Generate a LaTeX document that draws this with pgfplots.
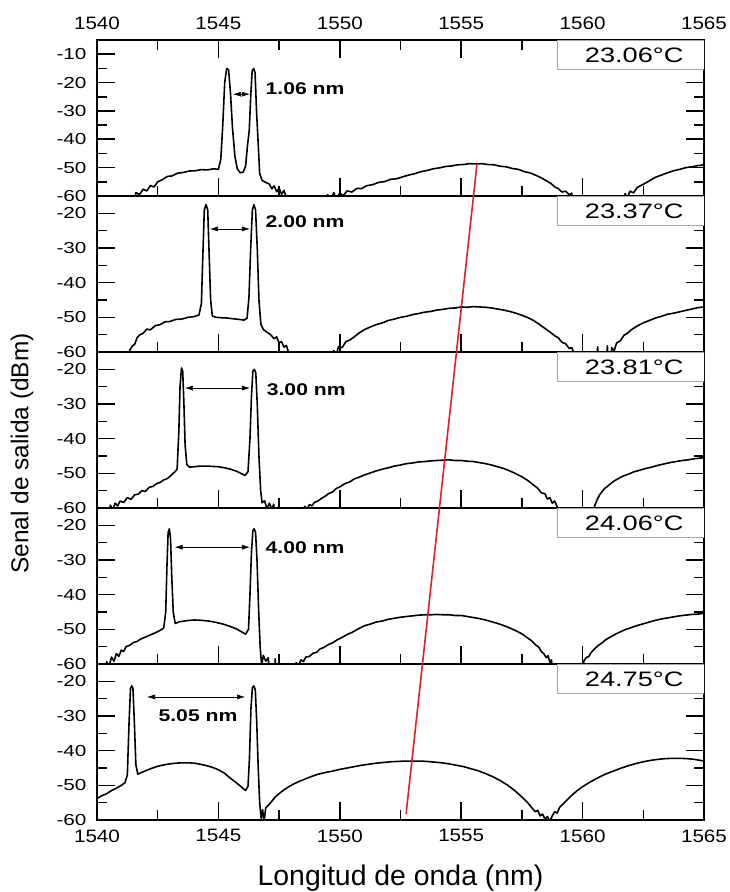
\documentclass[border=0pt]{standalone}
\usepackage{fontspec}
\setmainfont{Liberation Sans}[FakeStretch=1.15]
\newfontfamily\tempfont{Liberation Sans}[FakeStretch=1.3]
\newfontfamily\annfont{Liberation Sans}[FakeStretch=1.25]
\newfontfamily\labfont{Liberation Sans}
\usepackage{pgfplots}
\pgfplotsset{compat=1.18}
\usetikzlibrary{arrows.meta}

\definecolor{trace}{RGB}{226,32,36}

\pgfplotsset{
  panel/.style={
    scale only axis, width=607bp, height=156bp,
    xmin=1540, xmax=1565, ymin=-60, ymax=-15,
    xtick={1540,1545,1550,1555,1560,1565},
    minor xtick={1542.5,1547.5,1552.5,1557.5,1562.5},
    minor ytick={-55,-45,-35,-25,-15,-5},
    ytick={-60,-50,-40,-30,-20},
    yticklabels={-60,-50,-40,-30,-20},
    tick align=inside,
    major tick length=18bp, minor tick length=10bp,
    tick style={black, line width=1.6pt},
    axis line style={line width=1.3pt},
    ytick pos=both, yticklabel pos=left,
    xtick pos=left, xticklabels={},
    yticklabel style={font=\tempfont\fontsize{16}{16}\selectfont, xshift=-7bp},
    xticklabel style={font=\fontsize{18}{18}\selectfont},
    anchor=north west,
  },
  spec/.style={black, line width=1.6pt, line join=round},
}
\tikzset{
  gap/.style={{Latex[length=8bp,width=5bp]}-{Latex[length=8bp,width=5bp]}, line width=0.6pt},
  gaptext/.style={font=\annfont\bfseries\fontsize{17}{17}\selectfont},
  tbox/.style={draw=gray!70, fill=white, line width=0.8pt},
  ttext/.style={anchor=base east, font=\tempfont\fontsize{21}{21}\selectfont},
}

\begin{document}
\begin{tikzpicture}
\useasboundingbox (-97bp,-852bp) rectangle (633bp,40bp);

% ---- 23.06 C ----
\begin{axis}[panel, at={(0,0)}, ymax=-5,
  ytick={-60,-50,-40,-30,-20,-10},
  yticklabels={-60,-50,-40,-30,-20,-10},
  xtick pos=both, xticklabel pos=right,
  xticklabels={1540,1545,1550,1555,1560,1565},
  xticklabel style={yshift=7bp}]
\addplot[spec] coordinates {
(1541.45,-66)(1541.6,-58.8)(1541.75,-59.5)(1541.9,-57.6)(1542.05,-58.2)(1542.2,-56.3)
(1542.35,-56.8)(1542.5,-55.0)(1542.7,-54.2)(1542.9,-53.1)(1543.1,-52.9)(1543.3,-52.0)
(1543.55,-51.7)(1543.8,-51.2)(1544.05,-51.1)(1544.3,-50.7)(1544.55,-50.8)(1544.8,-50.4)
(1545.0,-50.6)(1545.1,-47)(1545.18,-35)(1545.26,-20)(1545.34,-15)(1545.42,-15.5)
(1545.5,-24)(1545.58,-36)(1545.68,-46)(1545.78,-50.5)(1545.9,-51.8)(1546.02,-51.6)
(1546.12,-49.5)(1546.2,-42)(1546.27,-37)(1546.33,-25)(1546.39,-16)(1546.45,-15)
(1546.51,-16.5)(1546.57,-30)(1546.63,-40)(1546.7,-52)(1546.8,-54.5)(1546.95,-55.2)
(1547.1,-55.8)(1547.2,-57.5)(1547.3,-56.4)(1547.4,-58.5)(1547.5,-57.2)(1547.6,-59.4)
(1547.7,-58.0)(1547.8,-60.5)(1547.9,-66)
(1549.3,-66)(1549.5,-59.5)(1549.6,-62)(1549.75,-58.8)(1549.85,-61)(1550.0,-59.0)
(1550.15,-59.8)(1550.3,-58.2)(1550.5,-58.6)(1550.7,-57.3)(1550.9,-57.4)(1551.1,-56.4)
(1551.35,-56.0)(1551.6,-55.2)(1551.85,-54.9)(1552.1,-54.1)(1552.35,-53.9)(1552.6,-53.2)
(1552.85,-52.6)(1553.1,-52.1)(1553.35,-51.4)(1553.6,-51.0)(1553.85,-50.4)(1554.1,-50.1)
(1554.35,-49.6)(1554.6,-49.4)(1554.85,-49.0)(1555.1,-48.9)(1555.35,-48.6)(1555.6,-48.7)
(1555.85,-48.6)(1556.1,-48.9)(1556.35,-49.0)(1556.6,-49.5)(1556.85,-49.7)(1557.1,-50.3)
(1557.35,-50.6)(1557.6,-51.4)(1557.85,-51.9)(1558.1,-52.8)(1558.3,-53.6)(1558.5,-54.6)
(1558.7,-55.6)(1558.85,-56.8)(1559.0,-57.4)(1559.15,-58.6)(1559.3,-58.3)(1559.45,-59.6)
(1559.55,-59.0)(1559.7,-66)
(1561.6,-66)(1561.75,-59.2)(1561.85,-60.5)(1561.95,-58.3)(1562.1,-58.9)(1562.25,-57.0)
(1562.4,-56.3)(1562.6,-55.4)(1562.8,-54.4)(1563.0,-53.4)(1563.25,-52.6)(1563.5,-51.8)
(1563.75,-51.1)(1564.0,-50.6)(1564.25,-50.0)(1564.5,-49.7)(1564.75,-49.3)(1565.0,-49.0)
};
\coordinate (shiftTop) at (axis cs:1555.65,-48.7);
\draw[gap] (axis cs:1545.6,-24.1) -- (axis cs:1546.3,-24.1);
\node[gaptext, anchor=west] at (axis cs:1546.8,-22) {1.06 nm};
\draw[tbox] (rel axis cs:0.758,1) rectangle (rel axis cs:1,0.812);
\node[ttext] at (rel axis cs:0.972,0.853) {23.06°C};
\end{axis}

% ---- 23.37 C ----
\begin{axis}[panel, at={(0,-156bp)}]
\addplot[spec] coordinates {
(1541.2,-66)(1541.35,-59.5)(1541.45,-58.3)(1541.55,-57.8)(1541.65,-55.9)(1541.75,-55.1)
(1541.9,-54.6)(1542.05,-53.4)(1542.2,-53.6)(1542.4,-52.4)(1542.6,-52.1)(1542.8,-51.3)
(1543.0,-51.2)(1543.25,-50.6)(1543.5,-50.5)(1543.75,-50.0)(1544.0,-49.8)(1544.2,-49.3)
(1544.3,-46)(1544.36,-32)(1544.42,-19)(1544.49,-17.5)(1544.56,-19)(1544.62,-32)
(1544.68,-45)(1544.75,-49.6)(1544.9,-50.0)(1545.1,-50.1)(1545.35,-50.2)(1545.6,-50.4)
(1545.85,-50.6)(1546.05,-50.8)(1546.18,-50.3)(1546.26,-44)(1546.33,-30)(1546.4,-19)
(1546.46,-17.5)(1546.53,-19)(1546.6,-30)(1546.67,-45)(1546.75,-52)(1546.85,-53.5)
(1547.0,-54.3)(1547.15,-55.0)(1547.3,-56.2)(1547.4,-55.6)(1547.5,-57.4)(1547.6,-57.0)
(1547.7,-58.6)(1547.8,-58.1)(1547.9,-60.4)(1548.0,-66)
(1549.6,-66)(1549.75,-59.6)(1549.85,-60.8)(1549.95,-58.4)(1550.1,-58.7)(1550.25,-57.0)
(1550.4,-56.6)(1550.6,-55.6)(1550.8,-54.5)(1551.0,-53.6)(1551.25,-52.8)(1551.5,-52.1)
(1551.75,-51.6)(1552.0,-50.9)(1552.25,-50.5)(1552.5,-50.0)(1552.75,-49.7)(1553.0,-49.2)
(1553.25,-48.9)(1553.5,-48.5)(1553.75,-48.3)(1554.0,-47.9)(1554.25,-47.7)(1554.5,-47.4)
(1554.75,-47.3)(1555.0,-47.0)(1555.25,-47.1)(1555.5,-46.9)(1555.75,-47.0)(1556.0,-47.1)
(1556.25,-47.3)(1556.5,-47.6)(1556.75,-47.9)(1557.0,-48.3)(1557.25,-48.8)(1557.5,-49.4)
(1557.75,-50.1)(1558.0,-51.0)(1558.25,-52.2)(1558.45,-53.2)(1558.65,-54.2)(1558.85,-55.3)
(1559.0,-55.9)(1559.15,-57.2)(1559.3,-57.6)(1559.45,-59.0)(1559.55,-58.7)(1559.65,-60.5)
(1559.75,-66)
(1560.55,-66)(1560.62,-58.5)(1560.7,-66)(1560.95,-66)(1561.02,-58.2)(1561.08,-66)
(1561.12,-66)(1561.2,-58.8)(1561.3,-59.6)(1561.4,-57.4)(1561.55,-56.8)(1561.7,-55.2)
(1561.85,-54.6)(1562.0,-53.6)(1562.25,-52.5)(1562.5,-51.6)(1562.75,-50.9)(1563.0,-50.2)
(1563.25,-49.7)(1563.5,-49.1)(1563.75,-48.8)(1564.0,-48.4)(1564.25,-48.0)(1564.5,-47.6)
(1564.75,-47.2)(1565.0,-47.0)
};
\draw[gap] (axis cs:1544.65,-24.5) -- (axis cs:1546.3,-24.5);
\node[gaptext, anchor=west] at (axis cs:1546.8,-22.5) {2.00 nm};
\draw[tbox] (rel axis cs:0.758,1) rectangle (rel axis cs:1,0.812);
\node[ttext] at (rel axis cs:0.972,0.853) {23.37°C};
\end{axis}

% ---- 23.81 C ----
\begin{axis}[panel, at={(0,-312bp)},
  ylabel={Senal de salida (dBm)},
  ylabel style={font=\labfont\fontsize{24.5}{24.5}\selectfont,
    at={(axis description cs:-0.1236,0.35)}, anchor=center}]
\addplot[spec] coordinates {
(1540.45,-66)(1540.55,-59.2)(1540.65,-60.5)(1540.75,-58.6)(1540.85,-59.4)(1540.95,-58.0)
(1541.1,-58.4)(1541.25,-57.0)(1541.4,-57.5)(1541.55,-56.2)(1541.7,-56.0)(1541.85,-55.0)
(1542.0,-55.2)(1542.15,-54.0)(1542.3,-53.8)(1542.45,-53.0)(1542.6,-52.6)(1542.75,-51.9)
(1542.9,-51.5)(1543.05,-50.6)(1543.2,-49.6)(1543.3,-48.8)(1543.37,-38)(1543.42,-25)
(1543.48,-19.6)(1543.53,-20.5)(1543.58,-30)(1543.63,-42)(1543.7,-47.5)(1543.8,-48.2)
(1544.0,-48.1)(1544.25,-47.9)(1544.5,-47.9)(1544.75,-48.0)(1545.0,-48.1)(1545.25,-48.4)
(1545.5,-48.8)(1545.75,-49.4)(1545.95,-50.1)(1546.1,-50.6)(1546.22,-49.5)(1546.3,-40)
(1546.36,-28)(1546.42,-20.5)(1546.48,-20)(1546.54,-21)(1546.6,-30)(1546.67,-45)
(1546.74,-55)(1546.8,-58.5)(1546.9,-57.9)(1547.0,-60.2)(1547.1,-58.6)(1547.2,-60.4)
(1547.28,-58.9)(1547.36,-66)
(1548.45,-66)(1548.55,-59.5)(1548.65,-60.4)(1548.75,-59.0)(1548.85,-59.4)(1548.95,-58.4)
(1549.1,-58.0)(1549.25,-57.2)(1549.4,-56.6)(1549.55,-55.8)(1549.7,-55.4)(1549.85,-54.4)
(1550.0,-53.9)(1550.2,-53.0)(1550.4,-52.5)(1550.6,-51.6)(1550.8,-51.1)(1551.0,-50.5)
(1551.25,-49.9)(1551.5,-49.3)(1551.75,-48.8)(1552.0,-48.4)(1552.25,-47.9)(1552.5,-47.6)
(1552.75,-47.2)(1553.0,-47.0)(1553.25,-46.7)(1553.5,-46.6)(1553.75,-46.4)(1554.0,-46.3)
(1554.25,-46.2)(1554.5,-46.1)(1554.75,-46.3)(1555.0,-46.3)(1555.25,-46.5)(1555.5,-46.6)
(1555.75,-46.9)(1556.0,-47.2)(1556.25,-47.6)(1556.5,-48.1)(1556.75,-48.6)(1557.0,-49.3)
(1557.25,-50.1)(1557.5,-51.0)(1557.75,-52.1)(1557.95,-53.2)(1558.15,-54.3)(1558.3,-55.6)
(1558.45,-55.9)(1558.55,-57.4)(1558.65,-57.0)(1558.75,-58.6)(1558.85,-58.0)(1558.95,-59.6)
(1559.05,-66)
(1560.4,-66)(1560.5,-59.3)(1560.6,-57.6)(1560.7,-56.2)(1560.8,-55.3)(1560.9,-54.4)
(1561.0,-53.9)(1561.15,-53.0)(1561.3,-52.2)(1561.5,-51.4)(1561.7,-50.7)(1561.9,-50.2)
(1562.1,-49.6)(1562.35,-49.1)(1562.6,-48.6)(1562.85,-48.2)(1563.1,-47.7)(1563.35,-47.3)
(1563.6,-46.9)(1563.85,-46.6)(1564.1,-46.3)(1564.35,-46.1)(1564.6,-45.8)(1564.85,-45.6)
(1565.0,-45.5)
};
\draw[gap] (axis cs:1543.62,-25.4) -- (axis cs:1546.3,-25.4);
\node[gaptext, anchor=west] at (axis cs:1546.85,-25.8) {3.00 nm};
\draw[tbox] (rel axis cs:0.758,1) rectangle (rel axis cs:1,0.812);
\node[ttext] at (rel axis cs:0.972,0.853) {23.81°C};
\end{axis}

% ---- 24.06 C ----
\begin{axis}[panel, at={(0,-468bp)}]
\addplot[spec] coordinates {
(1540.3,-66)(1540.4,-59.4)(1540.5,-60.5)(1540.6,-58.0)(1540.7,-59.2)(1540.8,-57.0)
(1540.9,-57.8)(1541.0,-56.0)(1541.1,-56.4)(1541.2,-55.0)(1541.35,-54.6)(1541.5,-53.8)
(1541.65,-53.5)(1541.8,-52.8)(1542.0,-52.2)(1542.2,-51.6)(1542.4,-51.0)(1542.6,-50.3)
(1542.75,-49.6)(1542.83,-45)(1542.88,-32)(1542.93,-22)(1542.98,-21)(1543.03,-24)
(1543.08,-35)(1543.14,-45)(1543.22,-48.3)(1543.4,-47.8)(1543.7,-47.5)(1544.0,-47.3)
(1544.3,-47.4)(1544.6,-47.6)(1544.9,-48.0)(1545.2,-48.5)(1545.5,-49.2)(1545.75,-49.9)
(1545.95,-50.7)(1546.12,-51.4)(1546.24,-50.0)(1546.3,-40)(1546.36,-28)(1546.42,-21.5)
(1546.47,-21)(1546.53,-22)(1546.59,-30)(1546.66,-45)(1546.72,-55)(1546.78,-60.4)
(1546.85,-57.5)(1546.95,-59.2)(1547.05,-58.2)(1547.15,-66)
(1547.3,-66)(1547.34,-58.5)(1547.38,-66)
(1548.1,-66)(1548.2,-59.6)(1548.3,-60.4)(1548.4,-58.8)(1548.5,-59.3)(1548.6,-58.0)
(1548.75,-57.8)(1548.9,-56.9)(1549.05,-56.6)(1549.2,-55.6)(1549.35,-55.2)(1549.5,-54.5)
(1549.7,-53.9)(1549.9,-53.0)(1550.1,-52.3)(1550.3,-51.5)(1550.5,-50.9)(1550.75,-49.9)
(1551.0,-49.0)(1551.25,-48.5)(1551.5,-47.9)(1551.75,-47.6)(1552.0,-47.1)(1552.25,-46.8)
(1552.5,-46.5)(1552.75,-46.3)(1553.0,-46.1)(1553.25,-45.9)(1553.5,-45.8)(1553.75,-45.8)
(1554.0,-45.7)(1554.25,-45.8)(1554.5,-45.8)(1554.75,-46.0)(1555.0,-46.0)(1555.25,-46.3)
(1555.5,-46.6)(1555.75,-46.9)(1556.0,-47.3)(1556.25,-47.8)(1556.5,-48.3)(1556.75,-48.9)
(1557.0,-49.6)(1557.25,-50.4)(1557.5,-51.3)(1557.7,-52.3)(1557.9,-53.3)(1558.05,-54.4)
(1558.2,-55.2)(1558.3,-56.4)(1558.4,-57.0)(1558.5,-58.2)(1558.58,-57.6)(1558.65,-59.5)
(1558.72,-58.8)(1558.8,-66)
(1559.95,-66)(1560.05,-59.2)(1560.15,-58.1)(1560.25,-57.9)(1560.35,-56.7)(1560.5,-55.6)
(1560.65,-54.6)(1560.8,-53.9)(1560.95,-53.0)(1561.1,-52.4)(1561.3,-51.6)(1561.5,-50.9)
(1561.75,-50.1)(1562.0,-49.5)(1562.25,-48.9)(1562.5,-48.4)(1562.75,-47.9)(1563.0,-47.4)
(1563.25,-47.0)(1563.5,-46.7)(1563.75,-46.4)(1564.0,-46.1)(1564.25,-45.9)(1564.5,-45.7)
(1564.75,-45.6)(1565.0,-45.4)
};
\draw[gap] (axis cs:1543.2,-26.3) -- (axis cs:1546.3,-26.3);
\node[gaptext, anchor=west] at (axis cs:1546.8,-26.5) {4.00 nm};
\draw[tbox] (rel axis cs:0.758,1) rectangle (rel axis cs:1,0.812);
\node[ttext] at (rel axis cs:0.972,0.853) {24.06°C};
\end{axis}

% ---- 24.75 C ----
\begin{axis}[panel, at={(0,-624bp)},
  xticklabels={1540,1545,1550,1555,1560,1565},
  xticklabel style={yshift=-6bp},
  xlabel={Longitud de onda (nm)},
  xlabel style={font=\labfont\fontsize{28.5}{28.5}\selectfont,
    at={(axis description cs:0.5,-0.423)}, anchor=base}]
\addplot[spec] coordinates {
(1540.0,-53.8)(1540.2,-53.0)(1540.4,-52.4)(1540.6,-51.5)(1540.8,-50.8)(1541.0,-50.0)
(1541.15,-49.3)(1541.25,-47)(1541.32,-32)(1541.38,-22)(1541.43,-21.3)(1541.48,-22)
(1541.54,-32)(1541.6,-44)(1541.68,-46.8)(1541.8,-46.4)(1542.0,-45.8)(1542.25,-45.1)
(1542.5,-44.5)(1542.75,-44.1)(1543.0,-43.8)(1543.25,-43.6)(1543.5,-43.5)(1543.75,-43.5)
(1544.0,-43.6)(1544.25,-43.9)(1544.5,-44.3)(1544.75,-44.8)(1545.0,-45.5)(1545.25,-46.5)
(1545.5,-48.0)(1545.75,-49.3)(1545.95,-50.5)(1546.12,-51.5)(1546.22,-50.2)(1546.28,-42)
(1546.34,-28)(1546.4,-21.8)(1546.46,-21.3)(1546.52,-22.5)(1546.58,-32)(1546.64,-45)
(1546.7,-55)(1546.76,-59.5)(1546.82,-57.0)(1546.88,-60.5)(1546.95,-56.5)(1547.05,-55.8)
(1547.2,-54.6)(1547.35,-53.3)(1547.5,-52.4)(1547.7,-51.3)(1547.9,-50.4)(1548.1,-49.6)
(1548.35,-48.8)(1548.6,-48.1)(1548.85,-47.4)(1549.1,-46.8)(1549.4,-46.3)(1549.7,-45.9)
(1550.0,-45.4)(1550.3,-45.0)(1550.6,-44.6)(1550.9,-44.2)(1551.2,-43.9)(1551.5,-43.6)
(1551.8,-43.4)(1552.1,-43.2)(1552.4,-43.1)(1552.7,-43.0)(1553.0,-43.0)(1553.3,-43.0)
(1553.6,-43.1)(1553.9,-43.3)(1554.2,-43.5)(1554.5,-43.8)(1554.8,-44.2)(1555.1,-44.6)
(1555.4,-45.2)(1555.7,-45.8)(1556.0,-46.6)(1556.3,-47.5)(1556.6,-48.6)(1556.9,-49.9)
(1557.15,-51.2)(1557.35,-52.4)(1557.55,-53.7)(1557.75,-55.1)(1557.9,-56.4)(1558.05,-57.6)
(1558.15,-57.2)(1558.25,-58.8)(1558.35,-58.3)(1558.45,-59.7)(1558.55,-59.0)(1558.65,-60.4)
(1558.75,-58.8)(1558.85,-57.6)(1558.95,-58.0)(1559.05,-56.4)(1559.2,-55.3)(1559.4,-53.9)
(1559.6,-52.6)(1559.8,-51.4)(1560.0,-50.4)(1560.25,-49.3)(1560.5,-48.3)(1560.75,-47.4)
(1561.0,-46.6)(1561.3,-45.8)(1561.6,-45.0)(1561.9,-44.3)(1562.2,-43.7)(1562.5,-43.2)
(1562.8,-42.8)(1563.1,-42.5)(1563.4,-42.3)(1563.7,-42.2)(1564.0,-42.2)(1564.3,-42.3)
(1564.6,-42.5)(1564.85,-42.8)(1565.0,-43.0)
};
\coordinate (shiftBottom) at (axis cs:1552.73,-58.3);
\draw[gap] (axis cs:1542.06,-24.5) -- (axis cs:1546.1,-24.5);
\node[gaptext, anchor=center] at (axis cs:1544.16,-30) {5.05 nm};
\draw[tbox] (rel axis cs:0.758,1) rectangle (rel axis cs:1,0.812);
\node[ttext] at (rel axis cs:0.972,0.853) {24.75°C};
\end{axis}

% drift of the interference maximum
\draw[trace, line width=1.6pt] (shiftTop) -- (shiftBottom);
\end{tikzpicture}
\end{document}
